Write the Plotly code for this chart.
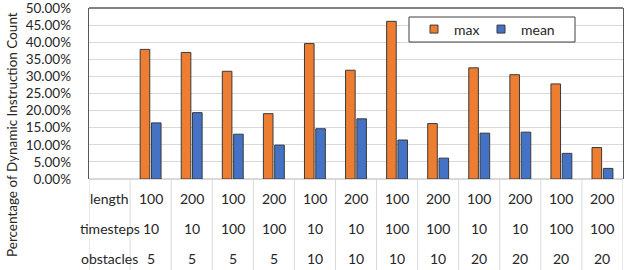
import plotly.graph_objects as go

length = ["100", "200", "100", "200", "100", "200", "100", "200", "100", "200", "100", "200"]
timesteps = ["10", "10", "100", "100", "10", "10", "100", "100", "10", "10", "100", "100"]
obstacles = ["5", "5", "5", "5", "10", "10", "10", "10", "20", "20", "20", "20"]
row_labels = ["length", "timesteps", "obstacles"]
max_vals = [37.9, 37.0, 31.5, 19.1, 39.6, 31.8, 46.1, 16.2, 32.5, 30.5, 27.8, 9.2]
mean_vals = [16.4, 19.4, 13.1, 9.9, 14.7, 17.6, 11.4, 6.1, 13.4, 13.7, 7.5, 3.1]
y_ticks = [0, 5, 10, 15, 20, 25, 30, 35, 40, 45, 50]
y_title = "Percentage of Dynamic Instruction Count"

ORANGE = "#ED7D31"
BLUE = "#4472C4"
EDGE = "#3A3A3A"
TEXT = "#262626"
FONT = "Lato"

W, H = 626, 270
L, R, T, B = 89, 3, 8, 91
plot_w = W - L - R
plot_h = H - T - B

xs = list(range(1, len(length) + 1))

fig = go.Figure()
fig.add_trace(go.Bar(x=xs, y=max_vals, name="max", marker=dict(color=ORANGE, line=dict(color=EDGE, width=1)), showlegend=False))
fig.add_trace(go.Bar(x=xs, y=mean_vals, name="mean", marker=dict(color=BLUE, line=dict(color=EDGE, width=1)), showlegend=False))
# legend entries
fig.add_trace(go.Scatter(x=[None], y=[None], mode="markers", name="max",
                         marker=dict(symbol="square", size=8, color=ORANGE, line=dict(color=EDGE, width=1))))
fig.add_trace(go.Scatter(x=[None], y=[None], mode="markers", name="mean",
                         marker=dict(symbol="square", size=8, color=BLUE, line=dict(color=EDGE, width=1))))
fig.add_trace(go.Scatter(x=[None], y=[None], mode="markers", name=" ",
                         marker=dict(symbol="square", size=8, color="rgba(0,0,0,0)", line=dict(width=0))))

def py(pix):
    # pixel y (from top) -> paper coordinate
    return (H - B - pix) / plot_h

def px(pix):
    return (pix - L) / plot_w

annotations = []
rows = [length, timesteps, obstacles]
row_y = [198, 228, 258]
for r, (lab, vals, yy) in enumerate(zip(row_labels, rows, row_y)):
    annotations.append(dict(x=0, y=py(yy), xref="x", yref="paper", text=lab, showarrow=False,
                            xanchor="center", yanchor="middle", font=dict(family=FONT, size=14, color=TEXT)))
    for xi, v in zip(xs, vals):
        annotations.append(dict(x=xi, y=py(yy), xref="x", yref="paper", text=v, showarrow=False,
                                xanchor="center", yanchor="middle", font=dict(family=FONT, size=14, color=TEXT)))

annotations.append(dict(x=px(12), y=py(135), xref="paper", yref="paper", text=y_title, textangle=-90,
                        showarrow=False, xanchor="center", yanchor="middle",
                        font=dict(family=FONT, size=13.5, color=TEXT)))

shapes = []
for k in range(len(xs) + 2):
    shapes.append(dict(type="line", xref="x", yref="paper", x0=k - 0.5, x1=k - 0.5,
                       y0=0, y1=py(H), line=dict(color="#D9D9D9", width=1), layer="below"))
# top frame
shapes.append(dict(type="line", xref="paper", yref="paper", x0=0, x1=1, y0=1, y1=1,
                   line=dict(color="#595959", width=1.3)))
# legend frame
shapes.append(dict(type="rect", xref="paper", yref="paper", x0=px(409), x1=px(575), y0=py(42), y1=py(17),
                   line=dict(color="#404040", width=1), fillcolor="white", layer="above"))

fig.update_layout(
    width=W, height=H,
    margin=dict(l=L, r=R, t=T, b=B, autoexpand=False),
    paper_bgcolor="white", plot_bgcolor="white",
    barmode="group", bargap=0.45, bargroupgap=0.15,
    font=dict(family=FONT, size=13.5, color=TEXT),
    showlegend=True,
    legend=dict(orientation="h", x=px(414), y=py(29.5), xanchor="left", yanchor="middle",
                bgcolor="rgba(0,0,0,0)", borderwidth=0, font=dict(family=FONT, size=14, color=TEXT),
                itemwidth=30, entrywidth=22, entrywidthmode="pixels", tracegroupgap=0),
    annotations=annotations,
    shapes=shapes,
)
fig.update_xaxes(range=[-0.5, len(xs) + 0.5], showticklabels=False, showgrid=False, zeroline=False,
                 showline=False, fixedrange=True, automargin=False)
fig.update_yaxes(range=[0, 50], tickvals=y_ticks, ticktext=[f"{v:.2f}%" for v in y_ticks],
                 showgrid=True, gridcolor="#D9D9D9", gridwidth=1, zeroline=True, zerolinecolor="#D9D9D9",
                 showline=True, mirror=True, linecolor="#595959", linewidth=1.3, automargin=False,
                 ticklabeloverflow="allow", ticklabelstandoff=14, ticks="", fixedrange=True,
                 tickfont=dict(family=FONT, size=13.5, color=TEXT))

fig.write_html("out.html", post_script="document.body.style.margin='0';",
               config={"displayModeBar": False, "staticPlot": True})
